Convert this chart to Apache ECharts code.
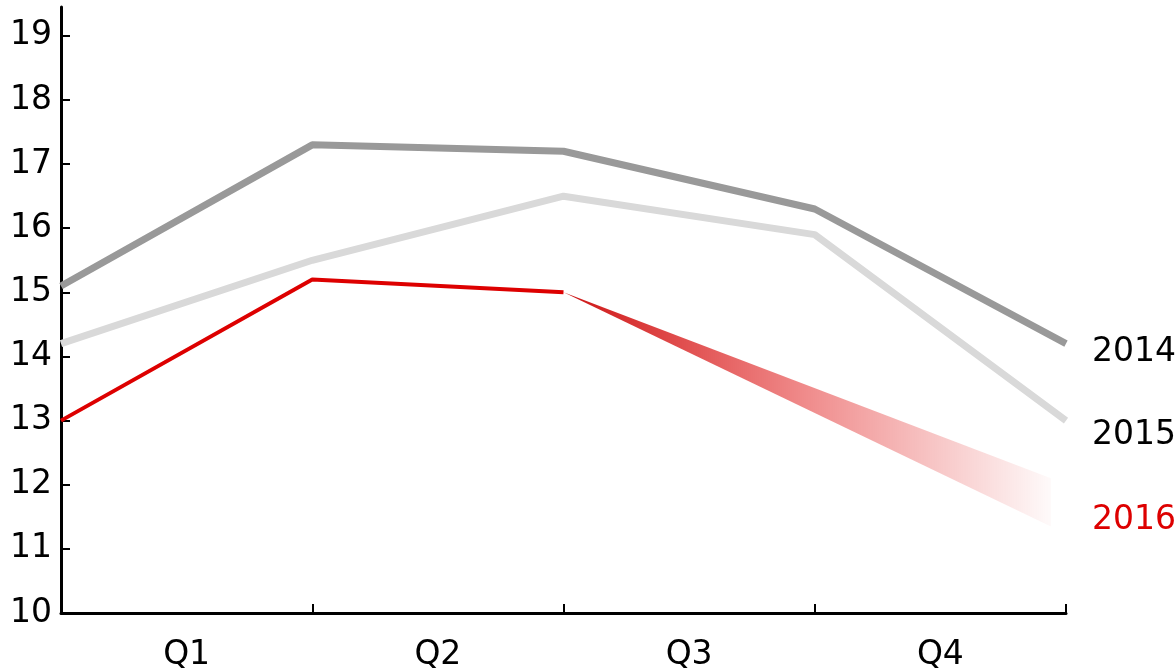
<!DOCTYPE html>
<html>
<head>
<meta charset="utf-8">
<script src="https://cdn.jsdelivr.net/npm/echarts@6/dist/echarts.min.js"></script>
<style>
html,body{margin:0;padding:0;background:#fff;}
#c{width:1176px;height:669px;}
</style>
</head>
<body>
<div id="c"></div>
<script>
const quarters = ['Q1', 'Q2', 'Q3', 'Q4'];
const pointIndex = [0, 1, 2, 3, 4];
const yTicks = [10, 11, 12, 13, 14, 15, 16, 17, 18, 19];
const s2014 = [15.1, 17.3, 17.2, 16.3, 14.2];
const s2015 = [14.2, 15.5, 16.5, 15.9, 13.0];
const s2016 = [13.0, 15.2, 15.0];
// forecast cone: start point, then end upper / lower
const coneStart = [2, 15.0];
const coneEndX = 3.94;
const coneEndUpper = 12.1;
const coneEndLower = 11.35;
const coneLabelValue = 11.45;

const FONT = 'DejaVu Sans';
const FS = 33;
const chart = echarts.init(document.getElementById('c'));

function pairs(arr) { return arr.map((v, i) => [pointIndex[i], v]); }

chart.setOption({
  animation: false,
  grid: { left: 61, right: 110, top: 7, bottom: 56, containLabel: false, outerBoundsMode: 'none' },
  xAxis: [
    {
      type: 'value', min: 0, max: 4, show: false
    },
    {
      type: 'category', data: quarters, boundaryGap: true, position: 'bottom',
      axisLine: { show: true, lineStyle: { color: '#000', width: 3 } },
      axisTick: { show: true, inside: true, length: 9, lineStyle: { color: '#000', width: 2 } },
      axisLabel: { color: '#000', fontSize: FS, fontFamily: FONT, margin: 26 },
      splitLine: { show: false }
    }
  ],
  yAxis: {
    type: 'value', min: 10, max: 19.45,
    axisLine: { show: true, lineStyle: { color: '#000', width: 3 } },
    axisTick: { show: true, inside: true, length: 9, customValues: yTicks, lineStyle: { color: '#000', width: 2 } },
    axisLabel: { color: '#000', fontSize: FS, fontFamily: FONT, margin: 9, customValues: yTicks },
    splitLine: { show: false }
  },
  series: [
    {
      name: '2015', type: 'line', xAxisIndex: 0, data: pairs(s2015), symbol: 'none',
      lineStyle: { color: '#d9d9d9', width: 7 },
      endLabel: { show: true, formatter: '{a}', color: '#000', fontSize: FS, fontFamily: FONT, distance: 26, offset: [0, 15] }
    },
    {
      name: '2014', type: 'line', xAxisIndex: 0, data: pairs(s2014), symbol: 'none',
      lineStyle: { color: '#999999', width: 7 },
      endLabel: { show: true, formatter: '{a}', color: '#000', fontSize: FS, fontFamily: FONT, distance: 26, offset: [0, 9] }
    },
    {
      name: '2016', type: 'line', xAxisIndex: 0, data: pairs(s2016), symbol: 'none',
      lineStyle: { color: '#dd0000', width: 4 }, z: 3
    },
    {
      name: '2016 forecast', type: 'custom', xAxisIndex: 0, z: 2,
      data: [[coneStart[0], coneStart[1], coneEndX, coneEndUpper, coneEndLower, coneLabelValue]],
      renderItem: function (params, api) {
        const p0 = api.coord([api.value(0), api.value(1)]);
        const p1 = api.coord([api.value(2), api.value(3)]);
        const p2 = api.coord([api.value(2), api.value(4)]);
        const pl = api.coord([4, api.value(5)]);
        return {
          type: 'group',
          children: [
            {
              type: 'polygon',
              shape: { points: [p0, p1, p2] },
              style: {
                fill: new echarts.graphic.LinearGradient(0, 0, 1, 0, [
                  { offset: 0, color: 'rgba(200,0,0,0.92)' },
                  { offset: 0.5, color: 'rgba(221,0,0,0.45)' },
                  { offset: 1, color: 'rgba(221,0,0,0.02)' }
                ])
              }
            },
            {
              type: 'text',
              x: pl[0] + 26, y: pl[1],
              style: { text: '2016', fill: '#dd0000', font: FS + 'px "DejaVu Sans"', textVerticalAlign: 'middle', textAlign: 'left' }
            }
          ]
        };
      }
    }
  ]
});
</script>
</body>
</html>
